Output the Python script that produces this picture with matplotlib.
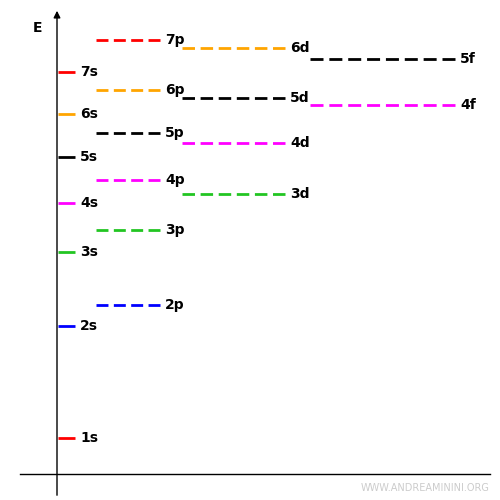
import matplotlib.pyplot as plt

# orbital energies (arbitrary units)
s_names = ['1s', '2s', '3s', '4s', '5s', '6s', '7s']
s_energy = [62, 174, 248, 297, 343, 386, 428]
s_colors = ['red', 'blue', '#22c522', 'magenta', 'black', 'orange', 'red']

p_names = ['2p', '3p', '4p', '5p', '6p', '7p']
p_energy = [195, 270, 320, 367, 410, 460]
p_colors = ['blue', '#22c522', 'magenta', 'black', 'orange', 'red']

d_names = ['3d', '4d', '5d', '6d']
d_energy = [306, 357, 402, 452]
d_colors = ['#22c522', 'magenta', 'black', 'orange']

f_names = ['4f', '5f']
f_energy = [395, 441]
f_colors = ['magenta', 'black']

fig = plt.figure(figsize=(5, 5), dpi=100)
ax = fig.add_axes([0, 0, 1, 1])
ax.set_xlim(0, 500)
ax.set_ylim(0, 500)
ax.axis('off')

# axes
ax.annotate('', xy=(57, 492), xytext=(57, 2),
            arrowprops=dict(arrowstyle='-|>', color='black', lw=1, mutation_scale=10))
ax.plot([20, 490], [26, 26], color='black', lw=1)
ax.text(37, 472, 'E', fontsize=10, fontweight='bold', ha='center', va='center')


def dash_for(width, n):
    # n dashes, gaps 0.45 of dash length, in linewidth units (lw=2)
    d = width / (n + 0.45 * (n - 1))
    return (0, (d / 2 * 0.72, d * 0.45 / 2 * 0.72))


groups = [
    (s_names, s_energy, s_colors, 58, 75, '-'),
    (p_names, p_energy, p_colors, 96, 160, dash_for(64, 4)),
    (d_names, d_energy, d_colors, 182, 285, dash_for(103, 6)),
    (f_names, f_energy, f_colors, 310, 455, dash_for(145, 8)),
]
for names, energy, colors, x0, x1, ls in groups:
    for n, e, c in zip(names, energy, colors):
        ax.plot([x0, x1], [e, e], color=c, lw=2, linestyle=ls, solid_capstyle='butt',
                dash_capstyle='butt')
        ax.text(x1 + 5, e, n, fontsize=10, fontweight='bold', ha='left', va='center')

ax.text(490, 12, 'WWW.ANDREAMININI.ORG', fontsize=7, color='#cccccc', ha='right', va='center')

fig.savefig('out.png', dpi=100)
